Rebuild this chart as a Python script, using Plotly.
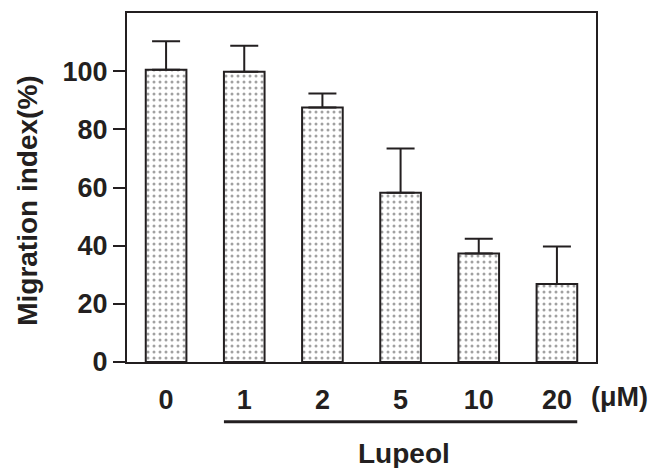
import plotly.graph_objects as go

# Data
doses = ["0", "1", "2", "5", "10", "20"]
migration = [100.5, 99.8, 87.5, 58.2, 37.3, 26.8]
err_up = [9.8, 8.9, 4.8, 15.2, 5.1, 12.9]
y_ticks = [0, 20, 40, 60, 80, 100]
treated_label = "Lupeol"
unit_label = "(\u03bcM)"
y_title = "Migration index(%)"

FONT = "Liberation Sans, Arial, sans-serif"
INK = "#231f20"
bar_w = 0.52
xs = list(range(len(doses)))

fig = go.Figure()
fig.add_trace(go.Bar(
    x=xs, y=migration, width=bar_w,
    marker=dict(
        color="white",
        line=dict(color=INK, width=2),
        pattern=dict(shape=".", size=6, solidity=0.2, fgcolor="#444444", bgcolor="white"),
    ),
    error_y=dict(type="data", symmetric=False, array=err_up,
                 arrayminus=[0] * len(err_up), thickness=2, width=14, color=INK),
    showlegend=False,
))

# The page body has an 8px default margin, so the figure is 8px smaller
fig.update_layout(
    width=656, height=460,
    margin=dict(l=119, r=68, t=3, b=106),
    paper_bgcolor="white", plot_bgcolor="white",
    font=dict(family=FONT, color=INK),
    xaxis=dict(
        range=[-0.5, len(doses) - 0.5],
        tickmode="array", tickvals=xs, ticktext=doses,
        ticks="outside", ticklen=13, tickcolor="rgba(0,0,0,0)",
        tickfont=dict(family=FONT, size=27, color=INK, weight="bold"),
        showline=True, linecolor=INK, linewidth=2, mirror=True,
        showgrid=False, zeroline=False,
    ),
    yaxis=dict(
        range=[0, 120],
        tickmode="array", tickvals=y_ticks,
        ticks="outside", ticklen=12, tickwidth=1.5, tickcolor=INK,
        tickfont=dict(family=FONT, size=27, color=INK, weight="bold"),
        showline=True, linecolor=INK, linewidth=2, mirror=True,
        showgrid=False, zeroline=False,
    ),
)

# Y axis title (placed slightly below the plot's middle, as in the reference)
fig.add_annotation(text=y_title, xref="paper", yref="paper",
                   x=-0.211, y=0.462, textangle=-90, showarrow=False,
                   font=dict(family=FONT, size=28, color=INK, weight="bold"),
                   xanchor="center", yanchor="middle")

# Lupeol bracket line under the treated doses
fig.add_shape(type="line", xref="x", yref="paper",
              x0=xs[1] - bar_w / 2, x1=xs[-1] + bar_w / 2, y0=-0.171, y1=-0.171,
              line=dict(color=INK, width=3))
fig.add_annotation(text=treated_label, xref="x", yref="paper",
                   x=(xs[1] + xs[-1]) / 2 + 0.05, y=-0.262, showarrow=False,
                   font=dict(family=FONT, size=28, color=INK, weight="bold"),
                   xanchor="center", yanchor="middle")
fig.add_annotation(text=unit_label, xref="paper", yref="paper",
                   x=1.051, y=-0.10, showarrow=False,
                   font=dict(family=FONT, size=27, color=INK, weight="bold"),
                   xanchor="center", yanchor="middle")

fig.write_html("out.html")
